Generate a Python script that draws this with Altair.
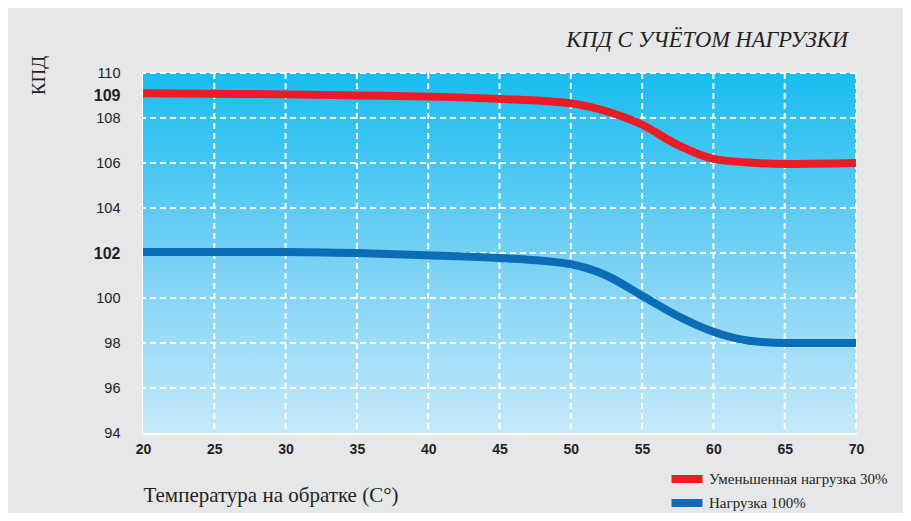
import altair as alt
import pandas as pd

# ---- data ----
temps = [20, 25, 30, 35, 40, 45, 50, 52.5, 55, 57.5, 60, 62.5, 65, 70]
red_vals = [109.1, 109.08, 109.05, 109.0, 108.95, 108.85, 108.65, 108.3, 107.7, 106.8, 106.18, 106.02, 105.96, 106.0]
blue_vals = [102.04, 102.05, 102.05, 102.0, 101.9, 101.78, 101.5, 101.0, 100.1, 99.2, 98.5, 98.1, 98.0, 98.0]
series_names = ["Уменьшенная нагрузка  30%", "Нагрузка 100%"]
series_colors = ["#ed1c24", "#0a6db5"]

x_ticks = [20, 25, 30, 35, 40, 45, 50, 55, 60, 65, 70]
y_ticks = [94, 96, 98, 100, 102, 104, 106, 108, 109, 110]
h_grid = [96, 98, 100, 102, 104, 106, 108, 110]
v_grid = [25, 30, 35, 40, 45, 50, 55, 60, 65, 70]
x_domain = [20, 70]
y_domain = [94, 110]

title_text = "КПД  С УЧЁТОМ НАГРУЗКИ"
y_title = "КПД"
x_title = "Температура на обратке (С°)"

rows = []
for t, r in zip(temps, red_vals):
    rows.append({"t": t, "v": r, "s": series_names[0]})
for t, b in zip(temps, blue_vals):
    rows.append({"t": t, "v": b, "s": series_names[1]})
df = pd.DataFrame(rows)

bg_df = pd.DataFrame([{"x": x_domain[0], "x2": x_domain[1], "y": y_domain[0], "y2": y_domain[1]}])
hg_df = pd.DataFrame({"y": h_grid})
vg_df = pd.DataFrame({"x": v_grid})

xs = alt.Scale(domain=x_domain, nice=False, zero=False)
ys = alt.Scale(domain=y_domain, nice=False, zero=False)

label_color = "#231f20"

x_axis = alt.Axis(
    values=x_ticks, grid=False, ticks=False, domain=True, domainColor="white", domainWidth=3,
    labelFont="Liberation Sans", labelFontSize=14, labelFontWeight="bold", labelColor=label_color,
    labelPadding=9, labelFlush=False, labelOverlap=False,
    title=x_title, titleFont="Liberation Serif", titleFontSize=21, titleFontWeight="normal",
    titleColor=label_color, titleX=0, titleY=62, titleAlign="left", titleBaseline="middle",
    titleAnchor="start",
)
y_axis = alt.Axis(
    values=y_ticks, grid=False, ticks=False, domain=True, domainColor="white", domainWidth=3,
    labelFont="Liberation Sans", labelColor=label_color, labelPadding=23, labelFlush=False,
    labelOverlap=False,
    labelFontSize={"condition": {"test": "datum.value == 102 || datum.value == 109", "value": 16}, "value": 14.5},
    labelFontWeight={"condition": {"test": "datum.value == 102 || datum.value == 109", "value": "bold"}, "value": "normal"},
    title=y_title, titleFont="Liberation Serif", titleFontSize=19, titleFontWeight="normal",
    titleColor=label_color, titleX=-105, titleY=2, titleAngle=270, titleAlign="center", titleBaseline="middle",
)

grad = alt.LinearGradient(
    gradient="linear",
    stops=[
        alt.GradientStop(color="#19bdf0", offset=0),
        alt.GradientStop(color="#7dd2f5", offset=0.55),
        alt.GradientStop(color="#c6e9fa", offset=1),
    ],
    x1=0, x2=0, y1=0, y2=1,
)

bg = alt.Chart(bg_df).mark_rect(fill=grad).encode(
    x=alt.X("x:Q", scale=xs, axis=x_axis),
    x2="x2:Q",
    y=alt.Y("y:Q", scale=ys, axis=y_axis),
    y2="y2:Q",
)

hgrid = alt.Chart(hg_df).mark_rule(color="white", strokeWidth=2, strokeDash=[6, 4]).encode(
    y=alt.Y("y:Q", scale=ys, axis=y_axis),
)
vgrid = alt.Chart(vg_df).mark_rule(color="white", strokeWidth=2, strokeDash=[6, 4]).encode(
    x=alt.X("x:Q", scale=xs, axis=x_axis),
)

lines = alt.Chart(df).mark_line(strokeWidth=8, interpolate="monotone", strokeCap="butt").encode(
    x=alt.X("t:Q", scale=xs, axis=x_axis),
    y=alt.Y("v:Q", scale=ys, axis=y_axis),
    color=alt.Color(
        "s:N",
        scale=alt.Scale(domain=series_names, range=series_colors),
        sort=series_names,
        legend=alt.Legend(
            title=None, orient="none", legendX=536, legendY=398, direction="vertical",
            symbolType="M-4,0L4,0", symbolSize=60, symbolStrokeWidth=8,
            labelFont="Liberation Serif", labelFontSize=15, labelColor=label_color,
            labelOffset=14, rowPadding=-20, labelLimit=400,
        ),
    ),
)

chart = alt.layer(bg, hgrid, vgrid, lines).properties(
    width=713, height=360,
    padding={"left": 135, "top": 65, "right": 47, "bottom": 80},
    autosize=alt.AutoSizeParams(type="none"),
    background="#e6e7e9",
    title=alt.TitleParams(
        title_text, anchor="end", frame="group", font="Liberation Serif", fontSize=22.5,
        fontStyle="italic", fontWeight="normal", color=label_color, offset=4, dx=-8,
    ),
).configure_view(stroke=None).configure_axis(labelOverlap=False)

chart.save("out.html", embed_options={"renderer": "svg", "actions": False})
